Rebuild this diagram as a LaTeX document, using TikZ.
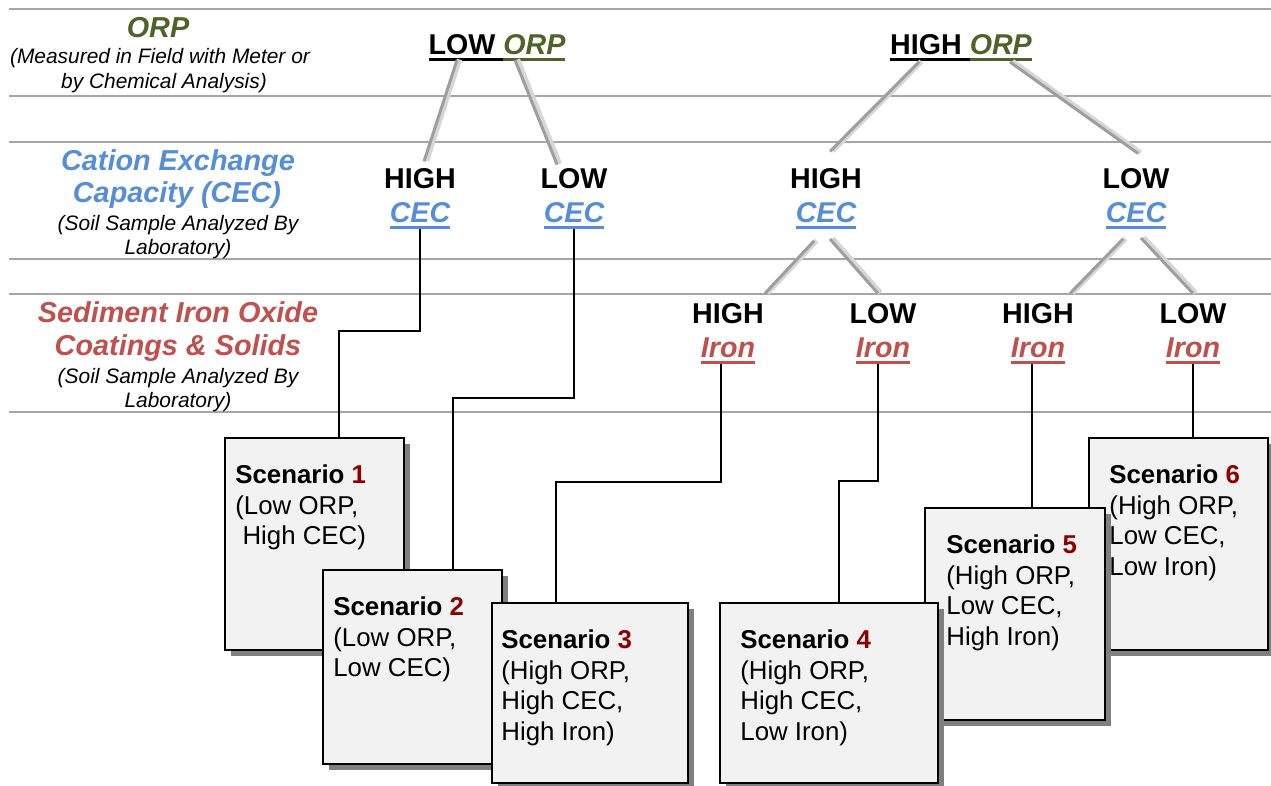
\documentclass[tikz,border=0pt]{standalone}
\usepackage{fontspec}
\setmainfont{Liberation Sans}
\usepackage{xcolor}
\usetikzlibrary{calc,fit,shadows}

\definecolor{orpgreen}{HTML}{4F6228}
\definecolor{cecblue}{HTML}{558ED5}
\definecolor{ironred}{HTML}{C0504D}
\definecolor{scenred}{HTML}{8E0000}
\definecolor{linegray}{HTML}{A6A6A6}
\definecolor{boxfill}{HTML}{F2F2F2}
\definecolor{shadowgray}{HTML}{7F7F7F}

\newcommand\ulbar[1]{\sbox0{#1}\rlap{\usebox0}\rule[-3.4pt]{\wd0}{1.7pt}}

\tikzset{
	rowline/.style={draw=linegray, line width=1.1pt},
	treeline/.style={draw=black!38, line width=1.7pt, preaction={draw=black!16, line width=3pt, transform canvas={shift={(1.4pt,0.3pt)}}}},
	wire/.style={draw=black, line width=0.85pt},
	choice/.style={inner sep=0pt, align=center, anchor=south, font=\fontsize{16.3}{19.3}\selectfont\bfseries},
	rowtitle/.style={inner sep=0pt, anchor=base, font=\fontsize{16.4}{18}\selectfont\bfseries\itshape},
	rownote/.style={inner sep=0pt, anchor=base, font=\fontsize{11.9}{14}\selectfont\itshape},
	scenbox/.style={draw=black, line width=1.1pt, fill=boxfill, inner sep=0pt, drop shadow={shadow xshift=3.4pt, shadow yshift=-3.4pt, fill=shadowgray, opacity=1}},
	scentext/.style={inner sep=0pt, anchor=north west, align=left, font=\fontsize{14.7}{17.6}\selectfont},
}

\begin{document}
\begin{tikzpicture}[x=0.02cm, y=-0.02cm]

	\useasboundingbox (0,0) rectangle (1271,785);

	\foreach \y in {9,96,142,259,294,412}
		\draw[rowline] (9,\y) -- (1271,\y);

	\node[rowtitle, text=orpgreen] (OrpTitle) at (158,37) {ORP};
	\node[rownote] (OrpNote1) at (160,63) {(Measured in Field with Meter or};
	\node[rownote] (OrpNote2) at (164,88) {by Chemical Analysis)};
	\node[rowtitle, text=cecblue] (CecTitle1) at (178,170) {Cation Exchange};
	\node[rowtitle, text=cecblue] (CecTitle2) at (177,202) {Capacity (CEC)};
	\node[rownote] (CecNote1) at (178,230) {(Soil Sample Analyzed By};
	\node[rownote] (CecNote2) at (178,254) {Laboratory)};
	\node[rowtitle, text=ironred] (IronTitle1) at (178,322) {Sediment Iron Oxide};
	\node[rowtitle, text=ironred] (IronTitle2) at (178,355) {Coatings \& Solids};
	\node[rownote] (IronNote1) at (178,383) {(Soil Sample Analyzed By};
	\node[rownote] (IronNote2) at (178,407) {Laboratory)};

	\node[choice] (LowOrp) at (497,61) {\ulbar{LOW\ }\textcolor{orpgreen}{\ulbar{\itshape ORP}}};
	\node[choice] (HighOrp) at (961,61) {\ulbar{HIGH\ }\textcolor{orpgreen}{\ulbar{\itshape ORP}}};

	\node[choice] (HighCec1) at (420,229) {HIGH\\\textcolor{cecblue}{\ulbar{\itshape CEC}}};
	\node[choice] (LowCec1) at (574,229) {LOW\\\textcolor{cecblue}{\ulbar{\itshape CEC}}};
	\node[choice] (HighCec2) at (826,229) {HIGH\\\textcolor{cecblue}{\ulbar{\itshape CEC}}};
	\node[choice] (LowCec2) at (1136,229) {LOW\\\textcolor{cecblue}{\ulbar{\itshape CEC}}};

	\node[choice] (HighIron1) at (728,364) {HIGH\\\textcolor{ironred}{\ulbar{\itshape Iron}}};
	\node[choice] (LowIron1) at (883,364) {LOW\\\textcolor{ironred}{\ulbar{\itshape Iron}}};
	\node[choice] (HighIron2) at (1038,364) {HIGH\\\textcolor{ironred}{\ulbar{\itshape Iron}}};
	\node[choice] (LowIron2) at (1193,364) {LOW\\\textcolor{ironred}{\ulbar{\itshape Iron}}};

	\draw[treeline] ($(LowOrp.south)+(-40,-1)$) -- ($(HighCec1.north)+(4,-7)$);
	\draw[treeline] ($(LowOrp.south)+(18,-1)$) -- ($(LowCec1.north)+(-17,-4)$);
	\draw[treeline] ($(HighOrp.south)+(-42,1)$) -- ($(HighCec2.north)+(4,-17)$);
	\draw[treeline] ($(HighOrp.south)+(49,1)$) -- ($(LowCec2.north)+(2,-15)$);
	\draw[treeline] ($(HighCec2.south)+(-12,12)$) -- ($(HighIron1.north)+(37,-10)$);
	\draw[treeline] ($(HighCec2.south)+(4,10)$) -- ($(LowIron1.north)+(-5,-10)$);
	\draw[treeline] ($(LowCec2.south)+(-13,10)$) -- ($(HighIron2.north)+(32,-10)$);
	\draw[treeline] ($(LowCec2.south)+(5,9)$) -- ($(LowIron2.north)+(0,-10)$);

	\node[scenbox, fit={(225,438) (404,650)}] (Box1) {};
	\node[scentext] (Text1) at ($(Box1.north west)+(11,27)$) {\textbf{Scenario \textcolor{scenred}{1}}\\(Low ORP,\\\ High CEC)};
	\node[scenbox, fit={(323,570) (502,764)}] (Box2) {};
	\node[scentext] (Text2) at ($(Box2.north west)+(11,27)$) {\textbf{Scenario \textcolor{scenred}{2}}\\(Low ORP,\\Low CEC)};
	\node[scenbox, fit={(492,603) (688,783)}] (Box3) {};
	\node[scentext] (Text3) at ($(Box3.north west)+(10,27)$) {\textbf{Scenario \textcolor{scenred}{3}}\\(High ORP,\\High CEC,\\High Iron)};

	\node[scenbox, fit={(1089,438) (1268,650)}] (Box6) {};
	\node[scentext] (Text6) at ($(Box6.north west)+(21,27)$) {\textbf{Scenario \textcolor{scenred}{6}}\\(High ORP,\\Low CEC,\\Low Iron)};
	\node[scenbox, fit={(925,508) (1105,720)}] (Box5) {};
	\node[scentext] (Text5) at ($(Box5.north west)+(22,27)$) {\textbf{Scenario \textcolor{scenred}{5}}\\(High ORP,\\Low CEC,\\High Iron)};
	\node[scenbox, fit={(720,603) (938,783)}] (Box4) {};
	\node[scentext] (Text4) at ($(Box4.north west)+(21,27)$) {\textbf{Scenario \textcolor{scenred}{4}}\\(High ORP,\\High CEC,\\Low Iron)};

	\coordinate (Bend1) at (339,331);
	\coordinate (Bend2) at (453,398);
	\coordinate (Bend3) at (556,482);
	\coordinate (Bend4) at (839,481);
	\coordinate (Drop5) at ($(HighIron2.south)+(-6,0)$);

	\draw[wire] (HighCec1.south) |- (Bend1) -- (Bend1 |- Box1.north);
	\draw[wire] (LowCec1.south) |- (Bend2) -- (Bend2 |- Box2.north);
	\draw[wire] ($(HighIron1.south)+(-7,0)$) |- (Bend3) -- (Bend3 |- Box3.north);
	\draw[wire] ($(LowIron1.south)+(-5,0)$) |- (Bend4) -- (Bend4 |- Box4.north);
	\draw[wire] (Drop5) -- (Drop5 |- Box5.north);
	\draw[wire] (LowIron2.south) -- (LowIron2.south |- Box6.north);

\end{tikzpicture}
\end{document}
